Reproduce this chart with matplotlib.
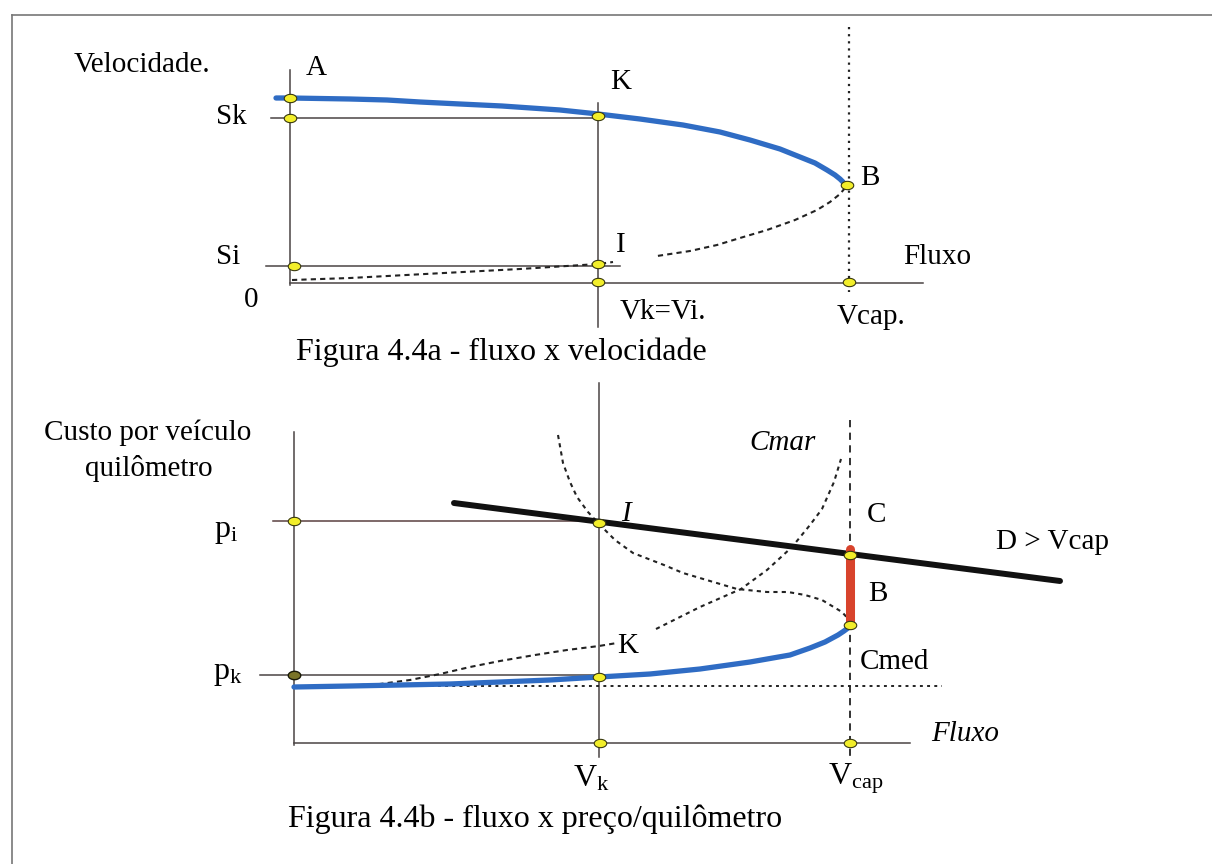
import matplotlib
matplotlib.use("Agg")
import matplotlib.pyplot as plt
from matplotlib.path import Path
import numpy as np

plt.rcParams['font.family'] = ['Liberation Serif', 'DejaVu Serif']
plt.rcParams['mathtext.fontset'] = 'custom'
plt.rcParams['mathtext.rm'] = 'Liberation Serif'
plt.rcParams['mathtext.it'] = 'Liberation Serif:italic'

# ---------------- Panel a: flow x speed (values in picture units) ----------------
a_speed_x = [276, 290, 350, 387, 420, 460, 502, 560, 598, 640, 683, 720, 750, 780, 800, 815, 827, 835, 840, 843, 845]
a_speed_y = [98, 98, 99, 100, 102, 104, 106, 110, 114, 119, 125, 132, 140, 149, 157, 163, 170, 175, 179, 182, 185]
a_congested_x = [845, 840, 830, 817, 795, 767, 740, 717, 690, 657]
a_congested_y = [188, 194, 202, 210, 220, 230, 238, 245, 251, 256]
a_low_x = [292, 350, 444, 520, 598, 613]
a_low_y = [280, 278, 273, 269, 264, 262]
a_levels = {'Sk': 118, 'Si': 266}
a_dots_x = [290, 290, 294, 598, 598, 598, 847, 849]
a_dots_y = [98, 118, 266, 116, 264, 282, 185, 282]

# ---------------- Panel b: flow x price/km ----------------
b_cmed_x = [294, 350, 400, 450, 500, 550, 599, 650, 700, 750, 790, 810, 825, 838, 844, 848, 850]
b_cmed_y = [687, 686, 685, 684, 682, 680, 677, 674, 669, 662, 655, 648, 642, 635, 631, 628, 626]
b_upper_x = [558, 563, 570, 577, 588, 599, 615, 633, 664, 683, 710, 737, 767, 788, 805, 822, 842, 851]
b_upper_y = [435, 463, 482, 497, 512, 524, 540, 553, 565, 573, 581, 589, 592, 592, 595, 600, 612, 622]
b_cmar1_x = [294, 340, 380, 410, 440, 470, 500, 535, 567, 599, 617]
b_cmar1_y = [687, 686, 684, 680, 674, 667, 661, 655, 650, 646, 643]
b_cmar2_x = [656, 680, 700, 741, 767, 792, 810, 822, 834, 841]
b_cmar2_y = [629, 617, 607, 589, 570, 547, 525, 509, 482, 459]
b_demand_x = [454, 1060]
b_demand_y = [503, 581]
b_gap_x = [850, 850]
b_gap_y = [549, 625]
b_levels = {'pi': 521, 'pk': 675}
b_dots_x = [294, 599, 599, 850, 850, 600, 850]
b_dots_y = [521, 523, 677, 555, 625, 743, 743]
b_pk_dot = (294, 675)

fig = plt.figure(figsize=(12.12, 8.64), dpi=100)
ax = fig.add_axes([0, 0, 1, 1])
ax.set_xlim(0, 1212)
ax.set_ylim(864, 0)
ax.axis('off')

gray = '#4a4444'
thin = 1.1
blue = '#2f6cc4'

# frame
ax.plot([12, 1212], [15, 15], color='#777777', lw=1.2)
ax.plot([12, 12], [15, 864], color='#777777', lw=1.2)

# ellipse marker
t = np.linspace(0, 2 * np.pi, 40)
ell = Path(np.column_stack([1.5 * np.cos(t), np.sin(t)]), closed=True)

# ---------- panel a ----------
ax.plot([290, 290], [70, 285], color=gray, lw=thin)
ax.plot([290, 923], [283, 283], color=gray, lw=thin)
ax.plot([271, 598], [a_levels['Sk']] * 2, color=gray, lw=thin)
ax.plot([266, 620], [a_levels['Si']] * 2, color=gray, lw=thin)
ax.plot([598, 598], [103, 327], color=gray, lw=thin)
ax.plot([849, 849], [27, 292], color='#222222', lw=1.6, ls=(0, (1, 2.2)))
ax.plot(a_low_x, a_low_y, color='#222222', lw=1.5, ls=(0, (2.5, 2)))
ax.plot(a_congested_x, a_congested_y, color='#222222', lw=1.5, ls=(0, (2.5, 2)))
ax.plot(a_speed_x, a_speed_y, color=blue, lw=3.8, solid_capstyle='round', solid_joinstyle='round')
ax.plot(a_dots_x, a_dots_y, ls='none', marker=ell, ms=9, mfc='#f2ee2a', mec='#3a3a10', mew=0.8)

ts = 21
cs = 23
ax.text(142, 65, 'Velocidade.', fontsize=ts, ha='center', va='center')
ax.text(316, 68, 'A', fontsize=ts, ha='center', va='center')
ax.text(231, 117, 'Sk', fontsize=ts, ha='center', va='center')
ax.text(228, 257, 'Si', fontsize=ts, ha='center', va='center')
ax.text(251, 300, '0', fontsize=ts, ha='center', va='center')
ax.text(621, 82, 'K', fontsize=ts, ha='center', va='center')
ax.text(621, 245, 'I', fontsize=ts, ha='center', va='center')
ax.text(870, 178, 'B', fontsize=ts, ha='center', va='center')
ax.text(937, 257, 'Fluxo', fontsize=ts, ha='center', va='center')
ax.text(663, 312, 'Vk=Vi.', fontsize=ts, ha='center', va='center')
ax.text(871, 317, 'Vcap.', fontsize=ts, ha='center', va='center')
ax.text(296, 352, 'Figura 4.4a - fluxo x velocidade', fontsize=cs, ha='left', va='center')

# ---------- panel b ----------
ax.plot([294, 294], [432, 745], color=gray, lw=thin)
ax.plot([294, 910], [743, 743], color=gray, lw=thin)
ax.plot([273, 599], [b_levels['pi']] * 2, color='#5a4040', lw=thin)
ax.plot([260, 599], [b_levels['pk']] * 2, color=gray, lw=thin)
ax.plot([599, 599], [383, 757], color=gray, lw=thin)
ax.plot([850, 850], [420, 760], color='#222222', lw=1.3, ls=(0, (4, 3)))
ax.plot([294, 942], [686, 686], color='#222222', lw=1.4, ls=(0, (1.5, 2.2)))
ax.plot(b_upper_x, b_upper_y, color='#222222', lw=1.5, ls=(0, (2, 2)))
ax.plot(b_cmar1_x, b_cmar1_y, color='#222222', lw=1.5, ls=(0, (2.5, 2)))
ax.plot(b_cmar2_x, b_cmar2_y, color='#222222', lw=1.5, ls=(0, (2, 2)))
ax.plot(b_demand_x, b_demand_y, color='#111111', lw=4.3, solid_capstyle='round')
ax.plot(b_gap_x, b_gap_y, color='#d8432c', lw=6.5, solid_capstyle='round')
ax.plot(b_cmed_x, b_cmed_y, color=blue, lw=3.8, solid_capstyle='round', solid_joinstyle='round')
ax.plot(b_dots_x, b_dots_y, ls='none', marker=ell, ms=9, mfc='#f2ee2a', mec='#3a3a10', mew=0.8)
ax.plot([b_pk_dot[0]], [b_pk_dot[1]], ls='none', marker=ell, ms=9, mfc='#7a7428', mec='#1a1a08', mew=1.0)

ax.text(148, 433, 'Custo por veículo', fontsize=ts, ha='center', va='center')
ax.text(149, 468, 'quilômetro', fontsize=ts, ha='center', va='center')
ax.text(226, 532, r'$\mathrm{p_i}$', fontsize=ts + 2, ha='center', va='center')
ax.text(228, 673, r'$\mathrm{p_k}$', fontsize=ts + 2, ha='center', va='center')
ax.text(783, 443, 'Cmar', fontsize=ts, ha='center', va='center', style='italic')
ax.text(626, 514, 'I', fontsize=ts, ha='center', va='center', style='italic')
ax.text(877, 515, 'C', fontsize=ts, ha='center', va='center')
ax.text(1052, 542, 'D > Vcap', fontsize=ts, ha='center', va='center')
ax.text(878, 594, 'B', fontsize=ts, ha='center', va='center')
ax.text(628, 646, 'K', fontsize=ts, ha='center', va='center')
ax.text(894, 662, 'Cmed', fontsize=ts, ha='center', va='center')
ax.text(965, 734, 'Fluxo', fontsize=ts, ha='center', va='center', style='italic')
ax.text(591, 779, r'$\mathrm{V_k}$', fontsize=ts + 2, ha='center', va='center')
ax.text(856, 779, r'$\mathrm{V_{cap}}$', fontsize=ts + 2, ha='center', va='center')
ax.text(288, 819, 'Figura 4.4b - fluxo x preço/quilômetro', fontsize=cs, ha='left', va='center')

fig.savefig('out.png', dpi=100)
